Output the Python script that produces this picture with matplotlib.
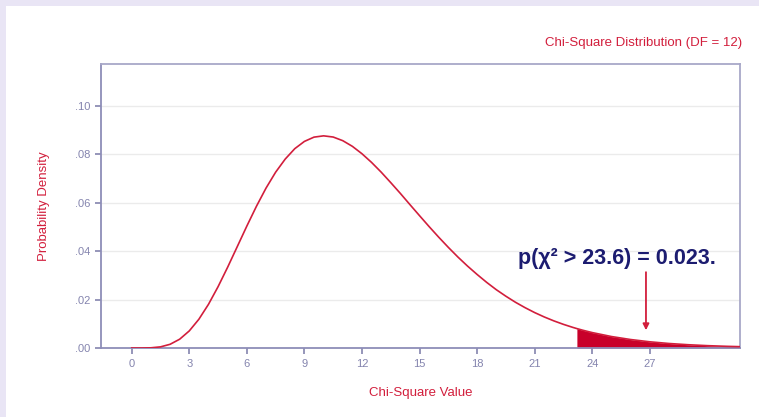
import matplotlib
matplotlib.use("Agg")
import matplotlib.pyplot as plt
from matplotlib.patches import Rectangle

# Chi-square (DF = 12) density
x_vals = [0, 0.5, 1, 1.5, 2, 2.5, 3, 3.5, 4, 4.5, 5, 5.5, 6, 6.5, 7, 7.5, 8, 8.5,
          9, 9.5, 10, 10.5, 11, 11.5, 12, 12.5, 13, 13.5, 14, 14.5, 15, 15.5,
          16, 16.5, 17, 17.5, 18, 18.5, 19, 19.5, 20, 20.5, 21, 21.5, 22, 22.5,
          23, 23.2, 23.5, 24, 25, 26, 27, 28, 29, 30, 31, 32]
density = [0.0, 0.000003, 0.000079, 0.000467, 0.00153, 0.00364, 0.00706, 0.01188,
           0.01804, 0.02533, 0.0334, 0.04189, 0.0504, 0.05858, 0.0661, 0.07267,
           0.0781, 0.08241, 0.0854, 0.08717, 0.0877, 0.08721, 0.0857, 0.08336,
           0.0803, 0.07671, 0.0727, 0.06836, 0.0639, 0.05927, 0.0547, 0.05018,
           0.0458, 0.0416, 0.0376, 0.03387, 0.0304, 0.02712, 0.0241, 0.0214,
           0.0189, 0.01667, 0.01464, 0.01283, 0.01121, 0.00977, 0.00849, 0.00802,
           0.00736, 0.00637, 0.00474, 0.0035, 0.00256, 0.00186, 0.00135, 0.000968,
           0.000692, 0.000492]
fill_start = 23.2
p_value_text = "p(χ² > 23.6) = 0.023."
arrow_x = 26.8
x_ticks = [0, 3, 6, 9, 12, 15, 18, 21, 24, 27]
y_ticks = [0.0, 0.02, 0.04, 0.06, 0.08, 0.10]
y_tick_labels = [".00", ".02", ".04", ".06", ".08", ".10"]

plt.rcParams['font.family'] = ['Liberation Sans', 'DejaVu Sans']

fig = plt.figure(figsize=(7.59, 4.17), dpi=100)
fig.patch.set_facecolor('#e9e5f5')
fig.add_artist(Rectangle((6/759, 0), 1, 1 - 6/417, transform=fig.transFigure,
                         facecolor='white', edgecolor='none', zorder=0))

ax = fig.add_axes([101/759, 1 - 348/417, (740 - 101)/759, (348 - 64)/417])
ax.set_facecolor('white')

red = '#d21e3c'
frame = '#8e8eb8'
tickc = '#8484ae'

ax.plot(x_vals, density, color=red, lw=1.2, zorder=3)
ax.fill_between(x_vals, 0, density, where=[v >= fill_start for v in x_vals],
                color='#c8002a', lw=0, zorder=2)

ax.set_xlim(-1.6, 31.7)
ax.set_ylim(0, 0.1174)
ax.set_xticks(x_ticks)
ax.set_xticklabels([str(t) for t in x_ticks])
ax.set_yticks(y_ticks)
ax.set_yticklabels(y_tick_labels)
ax.yaxis.grid(True, color='#ebebeb', lw=1)
ax.set_axisbelow(True)
ax.tick_params(axis='both', colors=tickc, labelsize=8, length=4, width=1.2,
               labelcolor=tickc)
ax.tick_params(axis='x', pad=4)
for s in ax.spines.values():
    s.set_color(frame)
    s.set_linewidth(1.3)
ax.spines['top'].set_color('#a8a8c8')
ax.spines['right'].set_color('#a8a8c8')

ax.set_xlabel("Chi-Square Value", color=red, fontsize=9.5, labelpad=13)
ax.set_ylabel("Probability Density", color=red, fontsize=9.5, labelpad=18)

fig.text(742/759, 1 - 43/417, "Chi-Square Distribution (DF = 12)", color=red,
         fontsize=9.5, ha='right', va='center')

ax.text(25.3, 0.0372, p_value_text, color='#1c1c70', fontsize=15.5,
        fontweight='bold', ha='center', va='center')
ax.annotate("", xy=(arrow_x, 0.0062), xytext=(arrow_x, 0.0325),
            arrowprops=dict(arrowstyle='-|>', color=red, lw=1.3,
                            mutation_scale=9))

fig.savefig("out.png", dpi=100)
